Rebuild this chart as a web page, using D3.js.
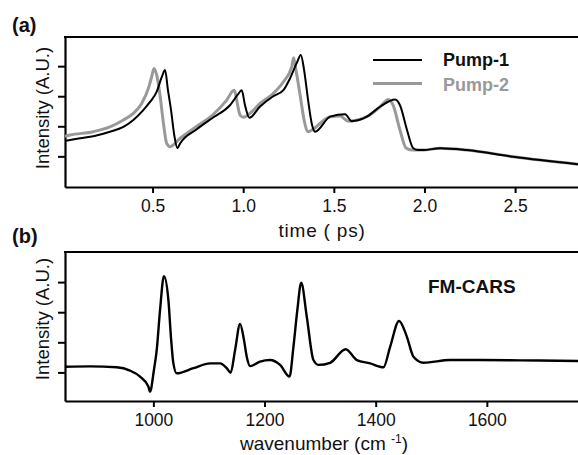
<!DOCTYPE html>
<html>
<head>
<meta charset="utf-8">
<script src="https://cdn.jsdelivr.net/npm/d3@7"></script>
<style>
  html, body { margin: 0; padding: 0; background: #fff; }
  svg { display: block; font-family: "Liberation Sans", Arial, Helvetica, sans-serif; }
</style>
</head>
<body>
<svg id="chart" width="578" height="455"></svg>
<script>
// ---------- Data ----------
// Panel (a): time (ps) and intensity (A.U.)
const pump1Time = [0.017,0.045,0.100,0.173,0.265,0.339,0.394,0.449,0.486,0.523,0.551,0.569,0.585,0.602,0.620,0.637,0.652,0.744,0.836,0.927,0.970,0.992,1.010,1.034,1.093,1.166,1.222,1.258,1.295,1.318,1.336,1.358,1.380,1.396,1.480,1.562,1.599,1.682,1.755,1.838,1.865,1.904,1.937,1.965,1.994,2.086,2.233,2.490,2.847];
const pump1Vals = [1.51,1.54,1.60,1.67,1.82,1.98,2.21,2.54,2.81,3.15,3.64,3.87,3.20,2.54,1.70,1.27,1.43,1.90,2.30,2.70,3.05,3.20,2.70,2.28,2.66,3.00,3.20,3.59,4.10,4.37,3.87,2.87,2.04,1.82,2.32,2.40,2.17,2.32,2.65,2.89,2.70,1.87,1.28,1.21,1.21,1.27,1.21,0.99,0.74];

const pump2Time = [0.017,0.045,0.173,0.265,0.339,0.394,0.440,0.477,0.495,0.508,0.523,0.541,0.559,0.578,0.596,0.652,0.744,0.836,0.909,0.949,0.983,1.001,1.039,1.093,1.166,1.222,1.268,1.278,1.291,1.314,1.336,1.355,1.480,1.534,1.580,1.682,1.755,1.801,1.827,1.865,1.898,1.931,1.994,2.086,2.233,2.490,2.847];
const pump2Vals = [1.67,1.71,1.82,1.98,2.21,2.43,2.76,3.26,3.64,3.92,3.70,3.04,2.15,1.43,1.32,1.60,2.00,2.40,2.87,3.20,2.37,2.30,2.44,2.76,3.09,3.48,3.98,4.28,3.87,3.04,2.21,1.82,2.32,2.34,2.17,2.32,2.65,2.89,2.70,1.87,1.28,1.21,1.21,1.27,1.21,0.99,0.74];

const timeTicks = [0.5, 1.0, 1.5, 2.0, 2.5];
const intensityTicks = [1, 2, 3, 4];

// Panel (b): wavenumber (cm-1) and FM-CARS intensity
const waveNumbers = [841,886,934,958,976,991,994,1001,1006,1012,1019,1027,1032,1036,1042,1072,1102,1120,1132,1139,1147,1156,1163,1168,1174,1192,1210,1228,1245,1252,1259,1266,1276,1288,1297,1318,1346,1366,1390,1414,1426,1442,1456,1468,1486,1534,1588,1660,1764];
const fmCarsVals = [1.19,1.20,1.17,1.06,0.86,0.53,0.36,1.08,1.74,3.07,4.20,3.41,2.08,1.30,0.97,1.14,1.30,1.30,1.14,0.99,1.74,2.61,2.08,1.52,1.21,1.36,1.41,1.25,0.86,1.85,3.07,3.98,2.85,1.41,1.25,1.32,1.77,1.41,1.30,1.17,1.85,2.71,2.19,1.52,1.32,1.41,1.41,1.40,1.38];

const waveTicks = [1000, 1200, 1400, 1600];

const seriesNames = ["Pump-1", "Pump-2"];
const seriesColors = ["#000000", "#999999"];

// ---------- Drawing ----------
const svg = d3.select("#chart");
const FONT = '"Liberation Sans", Arial, Helvetica, sans-serif';

function panel(opts) {
  const g = svg.append("g");
  const x = d3.scaleLinear().domain(opts.xDomain).range([65, 578]);
  const y = d3.scaleLinear().domain(opts.yDomain).range([opts.bottom, opts.top]);

  const yAxis = d3.axisLeft(y).tickValues(opts.yTicks).tickFormat("").tickSize(7).tickSizeOuter(0);
  const ya = g.append("g").attr("transform", "translate(65,0)").call(yAxis);
  const xAxis = d3.axisBottom(x).tickValues(opts.xTicks).tickFormat(opts.fmt).tickSize(6).tickSizeOuter(0).tickPadding(7);
  const xa = g.append("g").attr("transform", `translate(0,${opts.bottom})`).call(xAxis);
  [ya, xa].forEach(a => {
    a.select(".domain").attr("stroke", "#000").attr("stroke-width", 2.2);
    a.selectAll(".tick line").attr("stroke", "#000").attr("stroke-width", 2);
    a.selectAll(".tick text").attr("fill", "#111").style("font-family", FONT).style("font-size", "17.5px");
  });
  g.append("line").attr("x1", 64).attr("x2", 578).attr("y1", opts.top).attr("y2", opts.top)
    .attr("stroke", "#000").attr("stroke-width", 2.2);

  const line = d3.line().x(d => x(d[0])).y(d => y(d[1])).curve(d3.curveMonotoneX);
  opts.series.forEach(s => {
    g.append("path").datum(d3.zip(s.xs, s.ys))
      .attr("d", line).attr("fill", "none")
      .attr("stroke", s.color).attr("stroke-width", s.width)
      .attr("stroke-linejoin", "round");
  });

  g.append("text").attr("transform", `translate(${opts.yTitleX},${opts.yTitleY}) rotate(-90)`)
    .attr("text-anchor", "middle").style("font-family", FONT).style("font-size", "18.5px").attr("fill", "#111")
    .text("Intensity (A.U.)");
  return { g, x, y };
}

// Panel (a)
const pa = panel({
  xDomain: [0.017, 2.847], yDomain: [-0.02, 4.97], top: 37, bottom: 187,
  xTicks: timeTicks, yTicks: intensityTicks, fmt: d3.format(".1f"),
  yTitleX: 49, yTitleY: 108,
  series: [
    { xs: pump2Time, ys: pump2Vals, color: seriesColors[1], width: 3 },
    { xs: pump1Time, ys: pump1Vals, color: seriesColors[0], width: 2 }
  ]
});
pa.g.append("text").attr("x", 322).attr("y", 237).attr("text-anchor", "middle")
  .style("font-family", FONT).style("font-size", "19px").style("letter-spacing", "0.8px")
  .attr("fill", "#111").text("time ( ps)");

// Legend (a)
const legY = [60, 83.5];
const legTextY = [65.5, 90.5];
seriesNames.forEach((name, i) => {
  pa.g.append("line").attr("x1", 373).attr("x2", 422).attr("y1", legY[i]).attr("y2", legY[i])
    .attr("stroke", seriesColors[i]).attr("stroke-width", i === 0 ? 2 : 3);
  pa.g.append("text").attr("x", 443).attr("y", legTextY[i])
    .style("font-family", FONT).style("font-size", "18px").style("font-weight", "bold")
    .attr("fill", i === 0 ? "#111" : "#999").text(name);
});

// Panel (b)
const pb = panel({
  xDomain: [841, 1764], yDomain: [0.05, 5], top: 252, bottom: 401,
  xTicks: waveTicks, yTicks: intensityTicks, fmt: d3.format("d"),
  yTitleX: 49, yTitleY: 319,
  series: [ { xs: waveNumbers, ys: fmCarsVals, color: "#000", width: 2.4 } ]
});
const wl = pb.g.append("text").attr("x", 324).attr("y", 450).attr("text-anchor", "middle")
  .style("font-family", FONT).style("font-size", "19px").attr("fill", "#111");
wl.append("tspan").text("wavenumber  (cm ");
wl.append("tspan").attr("dy", -7).style("font-size", "12px").text("-1");
wl.append("tspan").attr("dy", 7).text(")");

pb.g.append("text").attr("x", 428).attr("y", 293)
  .style("font-family", FONT).style("font-size", "19px").style("font-weight", "bold")
  .attr("fill", "#111").text("FM-CARS");

// Panel letters
svg.append("text").attr("x", 12).attr("y", 32).style("font-family", FONT).style("font-size", "20px")
  .style("font-weight", "bold").attr("fill", "#111").text("(a)");
svg.append("text").attr("x", 12).attr("y", 243).style("font-family", FONT).style("font-size", "20px")
  .style("font-weight", "bold").attr("fill", "#111").text("(b)");
</script>
</body>
</html>
